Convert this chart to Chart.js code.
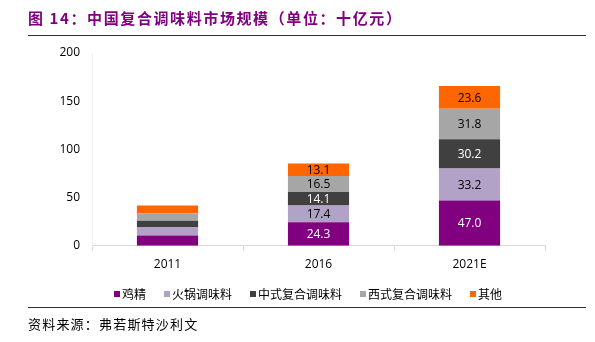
<!DOCTYPE html>
<html>
<head>
<meta charset="utf-8">
<script src="https://cdn.jsdelivr.net/npm/chart.js@4.4.0/dist/chart.umd.min.js"></script>
<style>
  html, body { margin: 0; padding: 0; background: #fff; }
  #wrap { position: relative; width: 595px; height: 342px; }
</style>
</head>
<body>
<div id="wrap"><canvas id="barChart" width="595" height="342"></canvas></div>
<script>
// Datos del gráfico (unidad: 十亿元)
const categorias = ['2011', '2016', '2021E'];
const series = ['鸡精', '火锅调味料', '中式复合调味料', '西式复合调味料', '其他'];
const jijing = [10.5, 24.3, 47.0];
const huoguo = [9.0, 17.4, 33.2];
const zhongshi = [6.3, 14.1, 30.2];
const xishi = [8.0, 16.5, 31.8];
const qita = [8.0, 13.1, 23.6];
const yTicks = [0, 50, 100, 150, 200];
// la barra de 2011 no lleva etiquetas
const mostrarEtiqueta = [false, true, true];

const colores = ['#800080', '#B3A2C7', '#404040', '#A6A6A6', '#FF6600'];
const colorTexto = ['#ffffff', '#000000', '#ffffff', '#000000', '#000000'];
const valores = [jijing, huoguo, zhongshi, xishi, qita];

const fuenteNum = "'Open Sans', 'Noto Sans CJK SC', sans-serif";
const fuenteCJK = "'Noto Sans CJK SC', sans-serif";

// Título, líneas, leyenda y fuente dibujados en el canvas
const decoracion = {
    id: 'decoracion',
    afterDraw(chart) {
        const c = chart.ctx;
        c.save();
        c.fillStyle = '#800080';
        c.font = "bold 15px " + fuenteCJK;
        c.letterSpacing = '1.6px';
        c.textBaseline = 'middle';
        c.textAlign = 'left';
        c.fillText('图 14：中国复合调味料市场规模（单位：十亿元）', 28, 18);
        c.strokeStyle = '#333333';
        c.lineWidth = 1;
        c.beginPath();
        c.moveTo(28, 35.5); c.lineTo(586, 35.5);
        c.moveTo(28, 307.5); c.lineTo(586, 307.5);
        c.stroke();
        c.fillStyle = '#000000';
        c.font = "13px " + fuenteCJK;
        c.letterSpacing = '1.2px';
        c.fillText('资料来源：弗若斯特沙利文', 28, 324);

        // leyenda propia (cuadro pequeño pegado al texto)
        c.letterSpacing = '0px';
        c.font = "12px " + fuenteCJK;
        const caja = 6, sep = 2, hueco = 18;
        const anchos = series.map(s => c.measureText(s).width);
        const total = anchos.reduce((a, b) => a + b, 0) + series.length * (caja + sep) + (series.length - 1) * hueco;
        let x = 308 - total / 2;
        const yLey = 294;
        series.forEach((s, i) => {
            c.fillStyle = colores[i];
            c.fillRect(x, yLey - caja / 2, caja, caja);
            c.fillStyle = '#000000';
            c.fillText(s, x + caja + sep, yLey);
            x += caja + sep + anchos[i] + hueco;
        });
        c.restore();
    }
};

// Etiquetas de valores dentro de cada segmento
const etiquetas = {
    id: 'etiquetas',
    afterDatasetsDraw(chart) {
        const c = chart.ctx;
        c.save();
        c.font = "12px " + fuenteNum;
        c.textAlign = 'center';
        c.textBaseline = 'middle';
        chart.data.datasets.forEach((ds, i) => {
            const meta = chart.getDatasetMeta(i);
            meta.data.forEach((bar, j) => {
                if (!mostrarEtiqueta[j]) return;
                c.fillStyle = colorTexto[i];
                c.fillText(ds.data[j].toFixed(1), bar.x, (bar.y + bar.base) / 2 + 1);
            });
        });
        c.restore();
    }
};

const ctx = document.getElementById('barChart').getContext('2d');
new Chart(ctx, {
    type: 'bar',
    data: {
        labels: categorias,
        datasets: series.map((nombre, i) => ({
            label: nombre,
            data: valores[i],
            backgroundColor: colores[i],
            borderWidth: 0,
            barPercentage: 0.81,
            categoryPercentage: 0.5
        }))
    },
    options: {
        responsive: false,
        animation: false,
        layout: { padding: { top: 53, left: 0, right: 50, bottom: 70 } },
        plugins: {
            legend: { display: false },
            tooltip: { enabled: false }
        },
        scales: {
            x: {
                stacked: true,
                afterFit: s => { s.height = 26.3; },
                grid: { display: true, drawOnChartArea: false, color: '#d9d9d9', tickLength: 5, offset: true },
                border: { color: '#d9d9d9' },
                ticks: { color: '#000', font: { family: fuenteNum, size: 12 }, padding: 7 }
            },
            y: {
                stacked: true,
                min: 0,
                max: 200,
                afterFit: s => { s.width = 92; },
                afterBuildTicks: s => { s.ticks = yTicks.map(v => ({ value: v })); },
                grid: { display: false, drawTicks: false },
                border: { display: true, color: '#f0f0f0' },
                ticks: { color: '#000', font: { family: fuenteNum, size: 12 }, padding: 12 }
            }
        }
    },
    plugins: [decoracion, etiquetas]
});
</script>
</body>
</html>
